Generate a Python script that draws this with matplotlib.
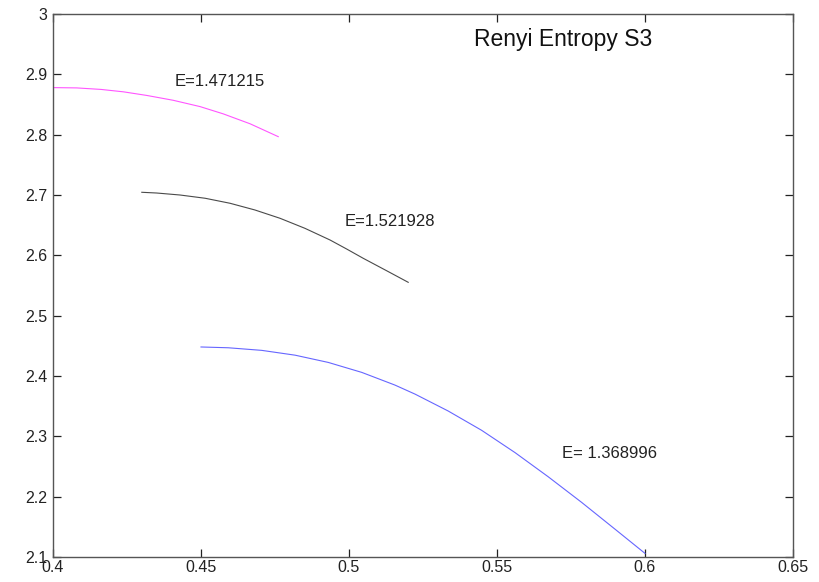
import matplotlib
matplotlib.use("Agg")
import matplotlib.pyplot as plt

plt.rcParams['font.family'] = ['Liberation Sans', 'DejaVu Sans']

# Curves
magenta_x = [0.400, 0.408, 0.4162, 0.4238, 0.4317, 0.4406, 0.4497, 0.4575, 0.4666, 0.4761]
magenta_y = [2.8780, 2.8775, 2.8750, 2.8710, 2.8650, 2.8570, 2.8465, 2.8345, 2.8180, 2.7967]

black_x = [0.430, 0.435, 0.4429, 0.4514, 0.4598, 0.4682, 0.4767, 0.4851, 0.4936, 0.4992,
           0.5048, 0.5127, 0.5200]
black_y = [2.7045, 2.7033, 2.7000, 2.6946, 2.6863, 2.6752, 2.6614, 2.6448, 2.6254, 2.6105,
           2.5951, 2.5745, 2.5553]

blue_x = [0.450, 0.4592, 0.4705, 0.4818, 0.4930, 0.5043, 0.5155, 0.5223, 0.5335, 0.5448,
          0.5561, 0.5673, 0.5786, 0.5899, 0.600]
blue_y = [2.4481, 2.4468, 2.4425, 2.4345, 2.4225, 2.4060, 2.3850, 2.3700, 2.3420, 2.3100,
          2.2730, 2.2330, 2.1905, 2.1460, 2.1060]

labels = ["E=1.471215", "E=1.521928", "E= 1.368996"]
label_pos = [(0.4412, 2.888), (0.4986, 2.6558), (0.5719, 2.2719)]
title_text = "Renyi Entropy S3"
title_pos = (0.5422, 2.957)

xticks = [0.4, 0.45, 0.5, 0.55, 0.6, 0.65]
xticklabels = ["0.4", "0.45", "0.5", "0.55", "0.6", "0.65"]
yticks = [2.1, 2.2, 2.3, 2.4, 2.5, 2.6, 2.7, 2.8, 2.9, 3.0]
yticklabels = ["2.1", "2.2", "2.3", "2.4", "2.5", "2.6", "2.7", "2.8", "2.9", "3"]

fig = plt.figure(figsize=(8.19, 5.82), dpi=100)
ax = fig.add_axes([53/819, 25/582, 740/819, 543/582])

ax.plot(magenta_x, magenta_y, color='#ff55ff', lw=0.8)
ax.plot(black_x, black_y, color='#4a4a4a', lw=0.8)
ax.plot(blue_x, blue_y, color='#6666ff', lw=0.8)

for t, (x, y) in zip(labels, label_pos):
    ax.text(x, y, t, fontsize=12, color='#222222', ha='left', va='center')
ax.text(title_pos[0], title_pos[1], title_text, fontsize=16.5, color='#111111', ha='left', va='center')

ax.set_xlim(0.4, 0.65)
ax.set_ylim(2.1, 3.0)
ax.set_xticks(xticks)
ax.set_xticklabels(xticklabels)
ax.set_yticks(yticks)
ax.set_yticklabels(yticklabels)
ax.tick_params(direction='in', length=6, width=0.9, top=True, right=True,
               labelsize=11.5, labelcolor='#222222', color='#222222')
ax.tick_params(axis='x', pad=2)
ax.tick_params(axis='y', pad=4)
for s in ax.spines.values():
    s.set_color('#555555')
    s.set_linewidth(1.0)

fig.savefig("out.png", dpi=100)
